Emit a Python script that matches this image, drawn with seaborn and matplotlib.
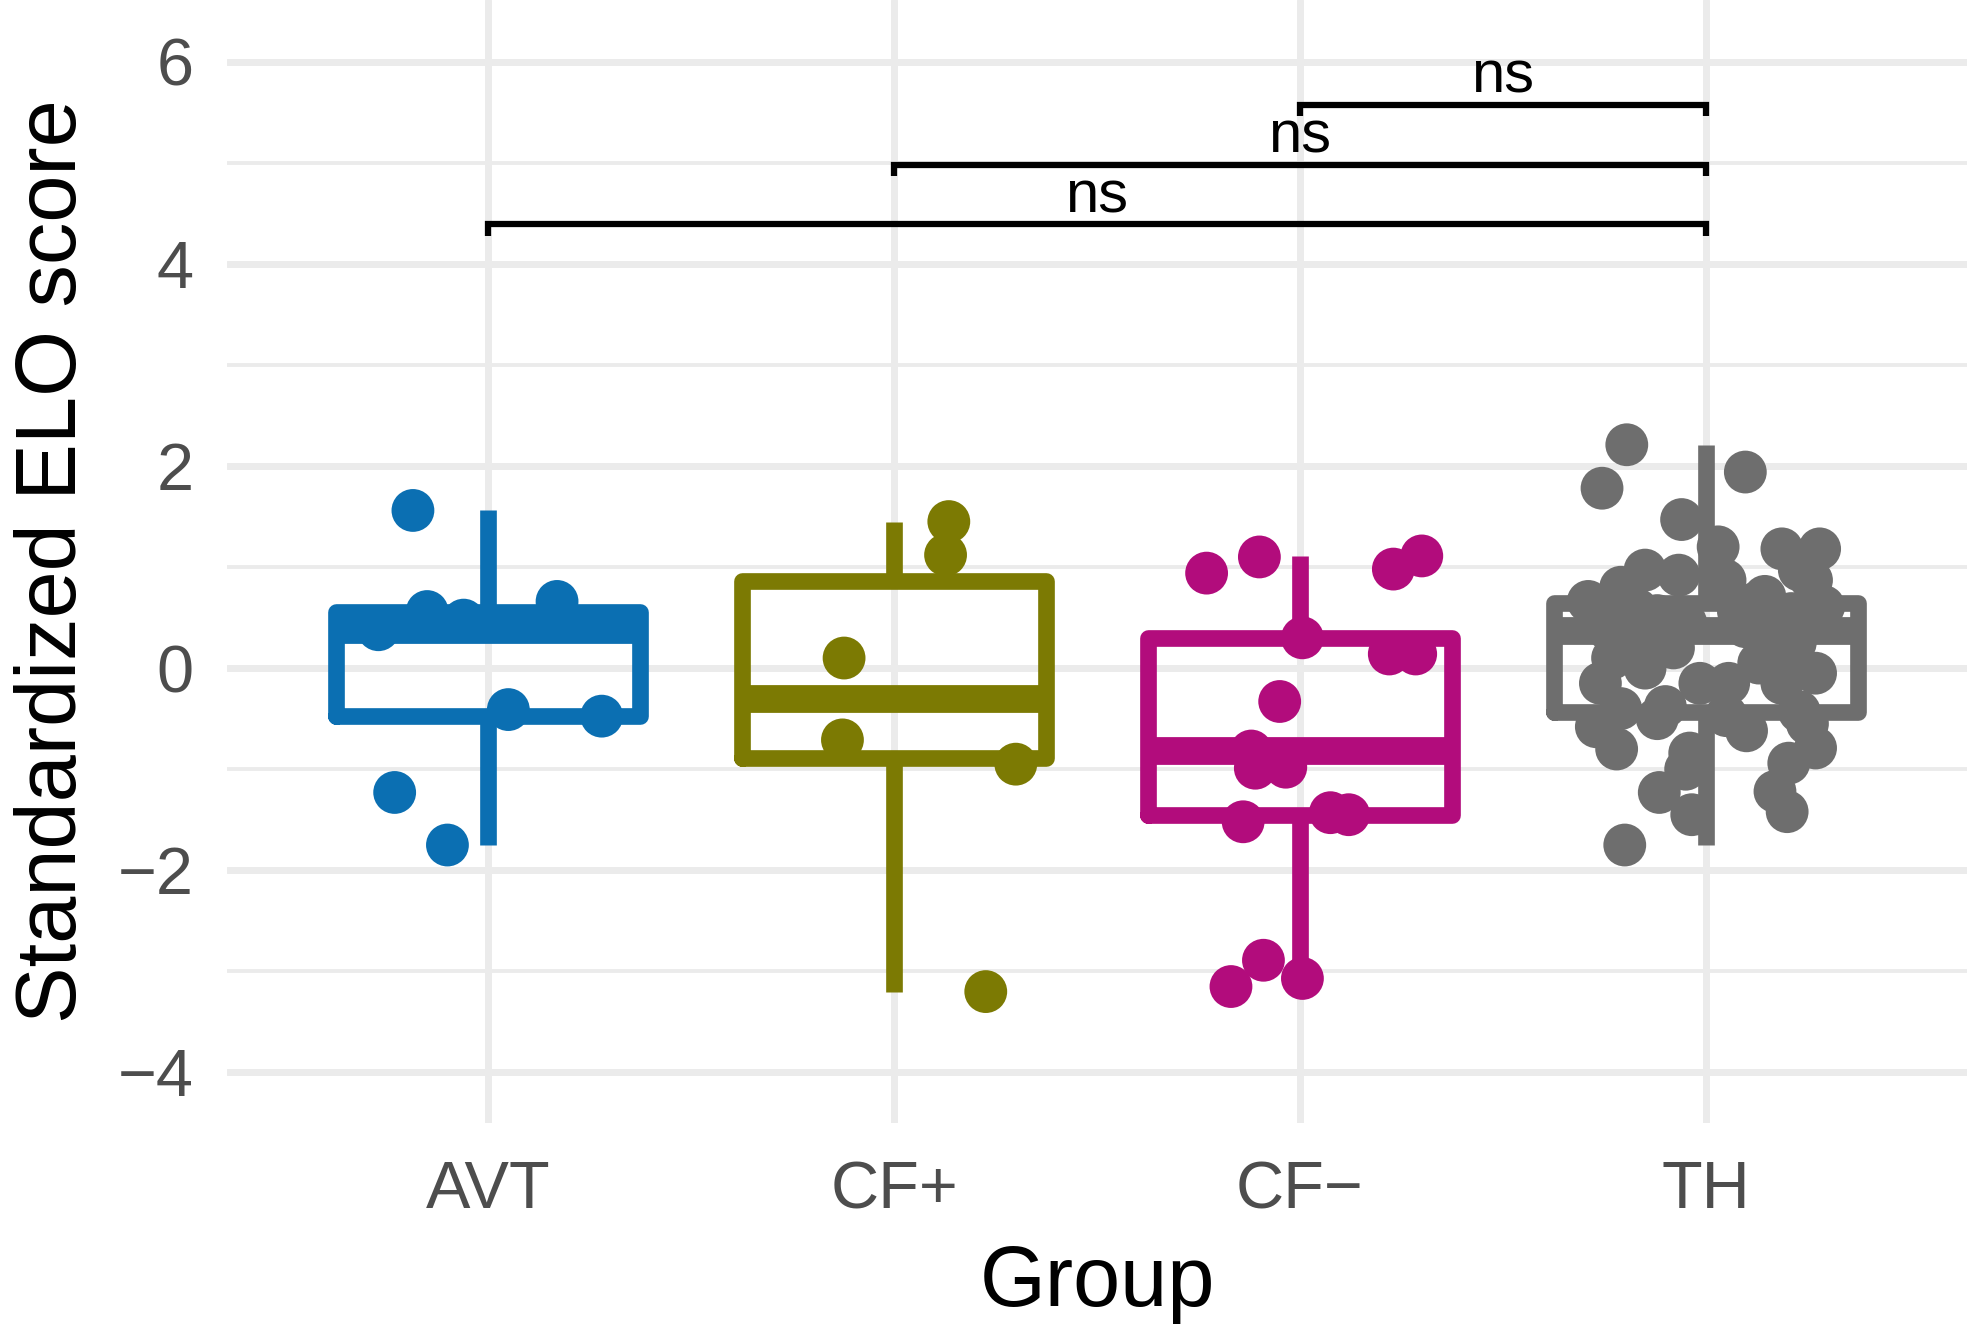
import matplotlib
matplotlib.use("Agg")
import matplotlib.pyplot as plt
import seaborn as sns
import pandas as pd

# Groups and colours
groups = ["AVT", "CF+", "CF\u2212", "TH"]
group_colors = ["#0B6FB2", "#7C7A03", "#B20C7C", "#6E6E6E"]

# Scores, with the horizontal jitter of each dot
avt_scores = [1.56, 0.66, 0.56, 0.475, 0.38, -0.41, -0.475, -1.23, -1.75]
avt_jitter = [-0.185, 0.17, -0.15, -0.06, -0.27, 0.05, 0.28, -0.23, -0.10]

cfp_scores = [1.45, 1.12, 0.10, -0.71, -0.95, -3.20]
cfp_jitter = [0.135, 0.127, -0.123, -0.127, 0.30, 0.226]

cfm_scores = [0.94, 1.10, 0.98, 1.11, 0.30, 0.14, 0.14, -0.33, -0.82,
              -0.99, -0.98, -1.52, -1.43, -1.45, -2.89, -3.15, -3.07]
cfm_jitter = [-0.23, -0.10, 0.23, 0.30, 0.006, 0.22, 0.285, -0.05, -0.12,
              -0.11, -0.035, -0.14, 0.075, 0.12, -0.09, -0.17, 0.006]

th_scores = [2.21, 1.94, 1.78, 1.47, 1.20, 1.18, 1.18, 0.97, 0.92, 0.97,
             0.87, 0.87, 0.80, 0.71, 0.66, 0.64,
             0.61, 0.58, 0.56, 0.54, 0.52, 0.50, 0.48, 0.47, 0.45, 0.44,
             0.41, 0.40, 0.39, 0.38, 0.37,
             0.30, 0.25, 0.20, 0.145, 0.10, 0.05, 0.00, -0.05, -0.15, -0.15,
             -0.15, -0.15, -0.38, -0.40, -0.43,
             -1.75, -1.45, -1.42, -1.23, -1.22, -1.00, -0.94, -0.84, -0.80,
             -0.79, -0.62, -0.58, -0.55, -0.50, -0.47]
th_jitter = [-0.195, 0.097, -0.256, -0.06, 0.03, 0.187, 0.28, -0.15, -0.067, 0.23,
             0.047, 0.26, -0.21, 0.145, -0.29, 0.12,
             0.29, -0.17, 0.08, 0.21, -0.12, 0.25, -0.22, 0.15, -0.05, 0.24,
             0.097, -0.14, 0.18, -0.24, -0.10,
             -0.19, 0.22, -0.08, 0.195, -0.23, 0.13, -0.15, 0.27, -0.26, -0.015,
             0.056, 0.187, -0.10, -0.21, 0.23,
             -0.20, -0.035, 0.20, -0.115, 0.17, -0.05, 0.204, -0.04, -0.22,
             0.27, 0.10, -0.27, 0.25, -0.12, 0.05]

# Pairwise comparisons shown above the boxes
bracket_pairs = [("AVT", "TH"), ("CF+", "TH"), ("CF\u2212", "TH")]
bracket_y = [4.39, 4.98, 5.57]
bracket_labels = ["ns", "ns", "ns"]

rows = []
for g, sc, jt in zip(groups, [avt_scores, cfp_scores, cfm_scores, th_scores],
                     [avt_jitter, cfp_jitter, cfm_jitter, th_jitter]):
    for s, j in zip(sc, jt):
        rows.append({"group": g, "score": s, "pos": groups.index(g) + j})
df = pd.DataFrame(rows)

sns.set_style("white")
plt.rcParams["font.family"] = ["Liberation Sans", "DejaVu Sans"]

W, H = 1983, 1332
fig = plt.figure(figsize=(W / 100, H / 100), dpi=100)
ax = fig.add_axes([227 / W, 209 / H, 1740 / W, 1123 / H])

sns.boxplot(data=df, x="group", y="score", hue="group", order=groups,
            hue_order=groups, palette=group_colors, fill=False, width=0.75,
            linewidth=12, showfliers=False, medianprops={"linewidth": 20},
            capprops={"visible": False}, legend=False, ax=ax)

sns.scatterplot(x=df["pos"], y=df["score"], hue=df["group"], hue_order=groups,
                palette=group_colors, s=950, linewidth=0, alpha=1,
                legend=False, ax=ax, zorder=3)

tip = 0.11
for (a, b), y, lab in zip(bracket_pairs, bracket_y, bracket_labels):
    x1, x2 = groups.index(a), groups.index(b)
    ax.plot([x1, x1, x2, x2], [y - tip, y, y, y - tip], color="black",
            lw=4.5, solid_joinstyle="miter", solid_capstyle="butt", zorder=4)
    ax.text((x1 + x2) / 2, y + 0.12, lab, ha="center", va="baseline",
            fontsize=43, color="black")

ax.set_xlim(-0.643, 3.643)
ax.set_ylim(-4.5, 6.61)
ax.set_yticks([-4, -2, 0, 2, 4, 6])
ax.set_yticks([-3, -1, 1, 3, 5], minor=True)
ax.set_xticks(range(len(groups)))
ax.set_xticklabels(groups)

ax.grid(which="major", color="#EBEBEB", linewidth=5)
ax.grid(which="minor", axis="y", color="#EBEBEB", linewidth=2.8)
ax.set_axisbelow(True)
for sp in ax.spines.values():
    sp.set_visible(False)

ax.tick_params(axis="both", which="both", length=0, labelsize=48,
               labelcolor="#4D4D4D")
ax.tick_params(axis="y", pad=24)
ax.tick_params(axis="x", pad=27)

ax.set_xlabel("Group", fontsize=61, color="black")
ax.set_ylabel("Standardized ELO score", fontsize=61, color="black")
ax.xaxis.set_label_coords(0.5, -0.108)
ax.yaxis.set_label_coords(-0.0764, 0.5)

fig.savefig("out.png", dpi=100)
